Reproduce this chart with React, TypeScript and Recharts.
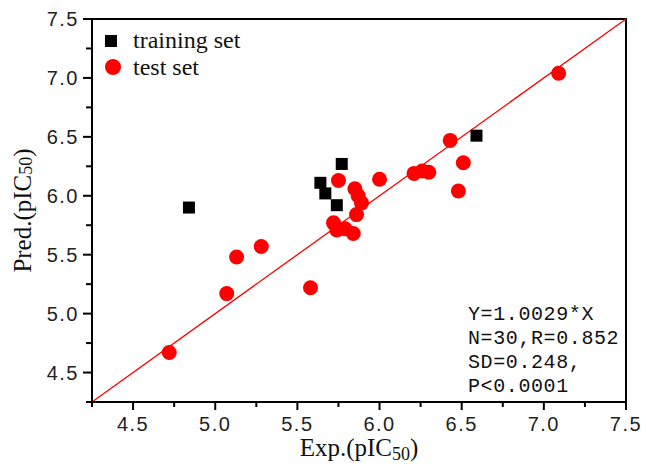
import React from 'react';
import { ScatterChart, Scatter, XAxis, YAxis, ReferenceLine, ReferenceArea } from 'recharts';

// Exp. vs Pred. pIC50
const trainExp = [4.84, 5.64, 5.67, 5.74, 5.77, 6.59];
const trainPred = [5.9, 6.11, 6.02, 5.92, 6.27, 6.51];

const testExp = [4.72, 5.07, 5.13, 5.28, 5.58, 5.72, 5.74, 5.79, 5.84, 5.75, 5.85, 5.87, 5.89, 5.86, 6.0, 6.21, 6.26, 6.3, 6.43, 6.48, 6.51, 7.09];
const testPred = [4.67, 5.17, 5.48, 5.57, 5.22, 5.77, 5.71, 5.72, 5.68, 6.13, 6.06, 6.0, 5.94, 5.84, 6.14, 6.19, 6.21, 6.2, 6.47, 6.04, 6.28, 7.04];

const axisTicks = [4.25, 4.5, 4.75, 5.0, 5.25, 5.5, 5.75, 6.0, 6.25, 6.5, 6.75, 7.0, 7.25, 7.5];
const tickLabels = ['4.5', '5.0', '5.5', '6.0', '6.5', '7.0', '7.5'];
const domain: [number, number] = [4.25, 7.5];

const legendNames = ['training set', 'test set'];
const statLines = ['Y=1.0029*X', 'N=30,R=0.852', 'SD=0.248,', 'P<0.0001'];

const trainData = trainExp.map((x, i) => ({ x, y: trainPred[i] }));
const testData = testExp.map((x, i) => ({ x, y: testPred[i] }));

const tickFont = { fontFamily: '"Liberation Sans", Arial, sans-serif', fontSize: 20, fill: '#222', letterSpacing: 1.5 };
const serif = '"Liberation Serif", "Times New Roman", serif';

const isMajor = (v: number) => Math.abs(v * 2 - Math.round(v * 2)) < 1e-6 && tickLabels.includes(v.toFixed(1));

const XTick = (props: any) => {
  const { x, y, payload } = props;
  const major = isMajor(payload.value);
  return (
    <g>
      <line x1={x} x2={x} y1={y} y2={y + (major ? 8 : 5)} stroke="#000" strokeWidth={2} />
      {major && (
        <text x={x} y={y + 29} textAnchor="middle" {...tickFont}>{payload.value.toFixed(1)}</text>
      )}
    </g>
  );
};

const YTick = (props: any) => {
  const { x, y, payload } = props;
  const major = isMajor(payload.value);
  return (
    <g>
      <line x1={x} x2={x - (major ? 9 : 6)} y1={y} y2={y} stroke="#000" strokeWidth={2} />
      {major && (
        <text x={x - 13} y={y + 7} textAnchor="end" {...tickFont}>{payload.value.toFixed(1)}</text>
      )}
    </g>
  );
};

const Square = (props: any) => <rect x={props.cx - 6} y={props.cy - 6} width={12} height={12} fill="#000" />;
const Dot = (props: any) => <circle cx={props.cx} cy={props.cy} r={7.5} fill="#ff0000" />;

const XTitle = (props: any) => {
  const { x, y, width } = props.viewBox;
  return (
    <text x={x + width / 2} y={y + 54} textAnchor="middle" fontFamily={serif} fontSize={25} fill="#111">
      Exp.(pIC<tspan fontSize={18} dy={4}>50</tspan><tspan dy={-4}>)</tspan>
    </text>
  );
};

const YTitle = (props: any) => {
  const { x, y, height } = props.viewBox;
  const cx = x - 10;
  const cy = y + height / 2;
  return (
    <text x={cx} y={cy} transform={`rotate(-90 ${cx} ${cy})`} textAnchor="middle" dominantBaseline="central" fontFamily={serif} fontSize={25} fill="#111">
      Pred.(pIC<tspan fontSize={18} dy={4}>50</tspan><tspan dy={-4}>)</tspan>
    </text>
  );
};

export default function App() {
  return (
    <div style={{ position: 'absolute', left: 0, top: 0 }}>
      <ScatterChart width={646} height={467} margin={{ top: 19, right: 20, left: 32, bottom: 20 }}>
        <XAxis
          type="number"
          dataKey="x"
          domain={domain}
          ticks={axisTicks}
          allowDataOverflow
          height={45}
          tickSize={0}
          tickMargin={0}
          tickLine={false}
          axisLine={{ stroke: '#000', strokeWidth: 2 }}
          tick={<XTick />}
          label={<XTitle />}
          interval={0}
        />
        <YAxis
          type="number"
          dataKey="y"
          domain={domain}
          ticks={axisTicks}
          allowDataOverflow
          width={60}
          tickSize={0}
          tickMargin={0}
          tickLine={false}
          axisLine={{ stroke: '#000', strokeWidth: 2 }}
          tick={<YTick />}
          label={<YTitle />}
          interval={0}
        />
        <ReferenceArea x1={4.25} x2={7.5} y1={4.25} y2={7.5} fill="none" fillOpacity={0} stroke="#000" strokeWidth={2} ifOverflow="visible" />
        <ReferenceLine segment={[{ x: 4.25, y: 4.25 }, { x: 7.5, y: 7.5 }]} stroke="#ff0000" strokeWidth={1.3} />
        <Scatter name={legendNames[0]} data={trainData} shape={<Square />} isAnimationActive={false} />
        <Scatter name={legendNames[1]} data={testData} shape={<Dot />} isAnimationActive={false} />
        <g>
          <rect x={105} y={35} width={12} height={12} fill="#000" />
          <text x={133} y={48} fontFamily={serif} fontSize={24} fill="#111">{legendNames[0]}</text>
          <circle cx={113} cy={67} r={8} fill="#ff0000" />
          <text x={133} y={75} fontFamily={serif} fontSize={24} fill="#111">{legendNames[1]}</text>
        </g>
        <text fontFamily='"Liberation Mono", "Courier New", monospace' fontSize={20} letterSpacing={0.6} fill="#111">
          {statLines.map((s, i) => (
            <tspan key={s} x={468} y={320 + i * 24}>{s}</tspan>
          ))}
        </text>
      </ScatterChart>
    </div>
  );
}
